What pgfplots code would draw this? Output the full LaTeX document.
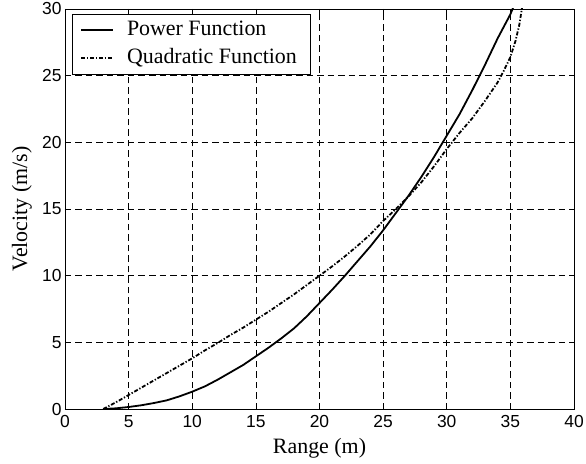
\documentclass[border=0pt]{standalone}
\usepackage{fontspec}
\setmainfont{Liberation Serif}
\newfontfamily\arial{Liberation Sans}
\usepackage{pgfplots}
\pgfplotsset{compat=1.18}
\begin{document}
\begin{tikzpicture}
\begin{axis}[
  scale only axis, width=509bp, height=400bp,
  xmin=0, xmax=40, ymin=0, ymax=30,
  xtick={0,5,...,40}, ytick={0,5,...,30},
  tick align=inside, major tick length=5bp,
  tick style={black, line width=0.7bp},
  grid=major,
  major grid style={black, dash pattern=on 6.5bp off 4bp, line width=0.6bp},
  axis line style={line width=0.9bp},
  /pgf/number format/assume math mode=true,
  ticklabel style={font=\arial\fontsize{17.5}{18}\selectfont},
  xticklabel style={yshift=-3bp},
  label style={font=\fontsize{22}{24}\selectfont},
  xlabel={Range (m)}, ylabel={Velocity (m/s)},
  xlabel style={at={(axis description cs:0.5,-0.0975)}, anchor=center},
  ylabel style={at={(axis description cs:-0.0845,0.5)}, anchor=center},
  legend style={at={(rel axis cs:0.0138,0.9875)}, anchor=north west,
    font=\fontsize{22}{24}\selectfont, draw=none, fill=white,
    inner xsep=8bp, inner ysep=3.5bp, row sep=3bp, column sep=11bp,
    nodes={inner sep=2bp, text height=16bp, text depth=5bp},
    append after command={\pgfextra{}}},
  legend cell align=left,
  legend image code/.code={\draw[#1, line width=1.8bp] (0bp,0bp) -- (32bp,0bp);},
]
\addplot[black, line width=1.8bp] coordinates {
(3,0) (4,0.05) (5,0.15) (6,0.28) (7,0.45) (8,0.65) (9,0.95) (10,1.3)
(11,1.7) (12,2.2) (13,2.75) (14,3.3) (15,3.95) (16,4.6) (17,5.3) (18,6.05)
(19,6.95) (20,7.95) (21,8.95) (22,10.0) (23,11.1) (24,12.2) (25,13.4) (26,14.7)
(27,16.0) (28,17.4) (29,18.9) (30,20.5) (31,22.1) (32,23.9) (33,25.8)
(34,27.8) (35,29.6) (35.3,30.3)
};
\addlegendentry{Power Function}
\addplot[black, line width=1.8bp, dash pattern=on 4bp off 1.8bp on 1.3bp off 1.8bp] coordinates {
(3,0) (4,0.5) (5,1.05) (6,1.6) (7,2.15) (8,2.7) (9,3.25) (10,3.8)
(11,4.4) (12,4.95) (13,5.55) (14,6.1) (15,6.7) (16,7.3) (17,7.95) (18,8.6)
(19,9.3) (20,10.0) (21,10.7) (22,11.45) (23,12.25) (24,13.1) (25,14.1)
(26,15.0) (27,15.95) (28,17.0) (29,18.2) (30,19.5) (31,20.7) (32,21.8)
(33,23.1) (34,24.5) (34.5,25.4) (35,26.4) (35.4,27.6) (35.7,28.8) (35.95,30.3)
};
\addlegendentry{Quadratic Function}
\end{axis}
\draw[line width=0.9bp] ([xshift=7bp,yshift=-5bp]current axis.north west) rectangle ++(238bp,-60bp);
\pgfresetboundingbox
\path (current axis.south west) ++(-65bp,-55bp) rectangle ([xshift=12bp,yshift=9bp]current axis.north east);
\end{tikzpicture}
\end{document}
